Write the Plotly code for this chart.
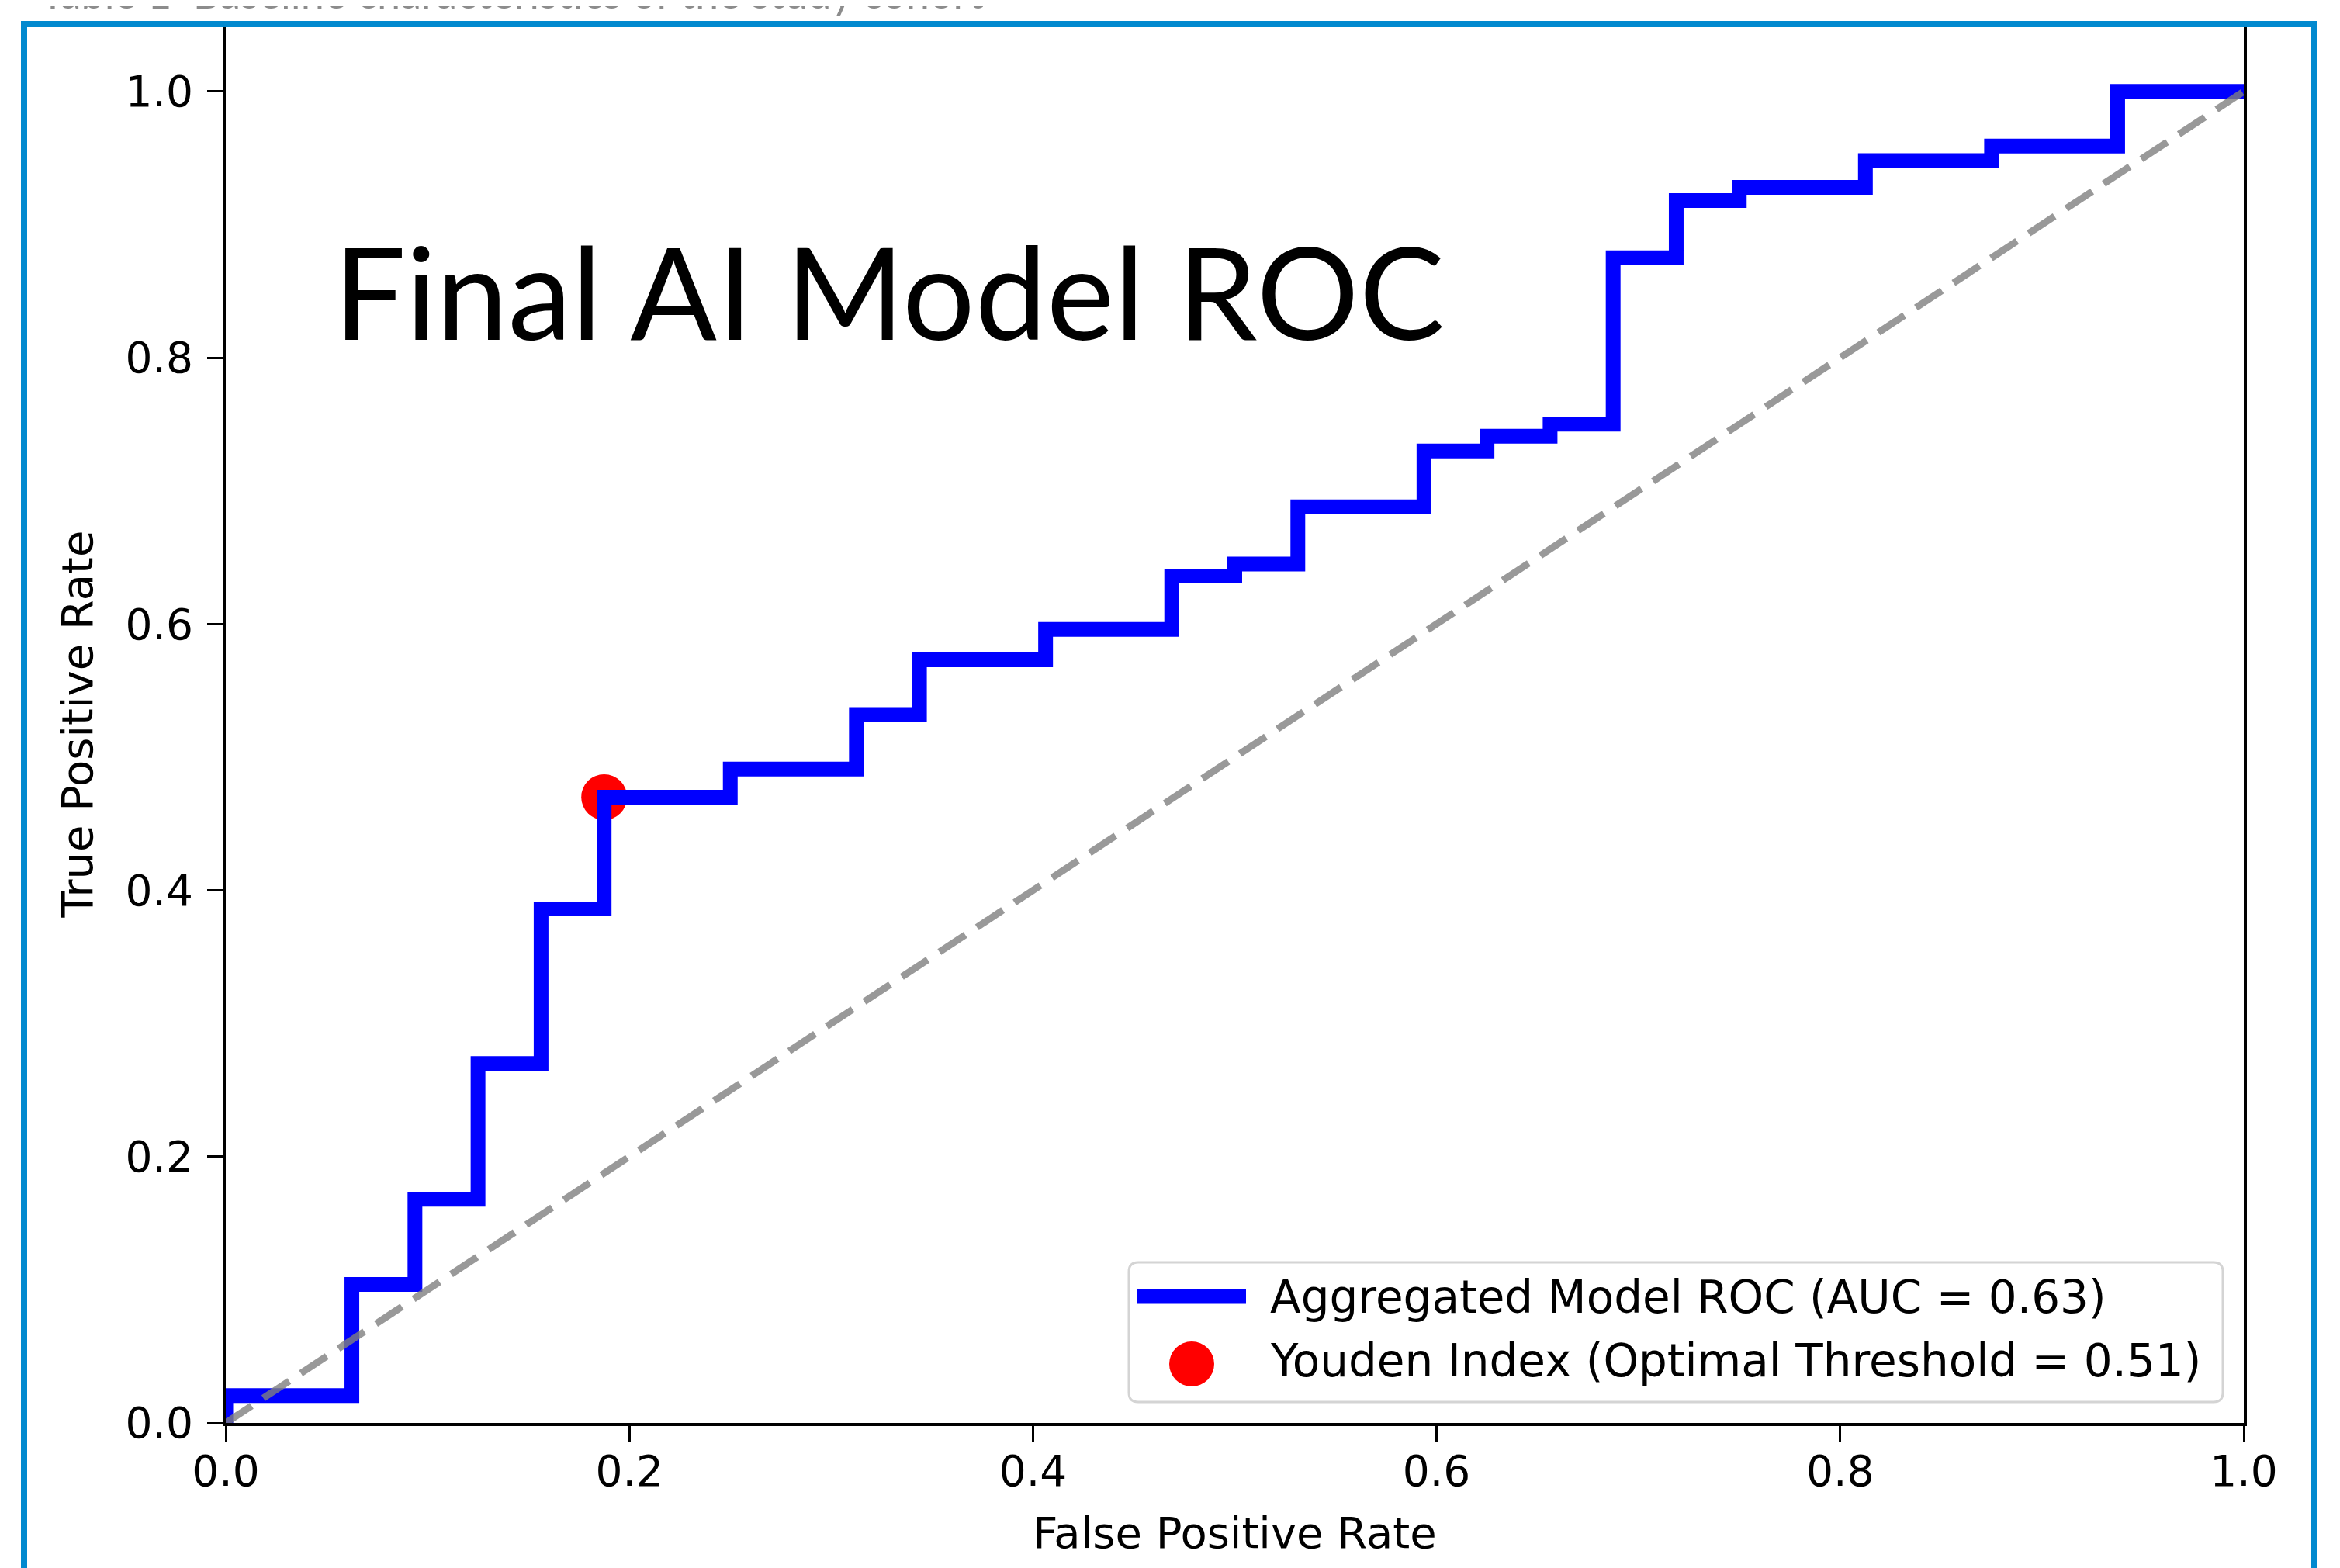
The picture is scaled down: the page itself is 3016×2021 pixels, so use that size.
import plotly.graph_objects as go

# ---------------- data ----------------
fpr = [0.0, 0.0, 0.0625, 0.09375, 0.125, 0.15625, 0.1875, 0.25, 0.3125, 0.34375,
       0.40625, 0.46875, 0.5, 0.53125, 0.59375, 0.625, 0.65625, 0.6875, 0.71875,
       0.75, 0.8125, 0.875, 0.9375, 1.0]
tpr = [0.0, 0.0206, 0.104, 0.168, 0.270, 0.386, 0.470, 0.491, 0.532, 0.573,
       0.596, 0.636, 0.645, 0.688, 0.730, 0.741, 0.750, 0.875, 0.918,
       0.928, 0.948, 0.959, 1.0, 1.0]
youden_fpr = [0.1875]
youden_tpr = [0.470]
chance_x = [0.0, 1.0]
chance_y = [0.0, 1.0]
tick_vals = [0.0, 0.2, 0.4, 0.6, 0.8, 1.0]
tick_text = ["0.0", "0.2", "0.4", "0.6", "0.8", "1.0"]
roc_label = "Aggregated Model ROC (AUC = 0.63)"
youden_label = "Youden Index (Optimal Threshold = 0.51)"
title_text = "Final AI Model ROC"
caption_text = "Table 1  Baseline characteristics of the study cohort"

# ---------------- geometry (page pixels) ----------------
OFF = 8                      # default body margin of the written html page
PW, PH = 3016, 2021          # page size
PL, PR, PT, PB = 291, 2892, 32, 1834   # plot area in page pixels
W, H = PW - OFF, PH - OFF


def px(xp):
    return (xp - PL) / (PR - PL)


def py(yp):
    return (PB - yp) / (PB - PT)


FONT = "DejaVu Sans"

fig = go.Figure()

# Youden point (below the ROC line)
fig.add_trace(go.Scatter(
    x=youden_fpr, y=youden_tpr, mode="markers", name=youden_label,
    marker=dict(color="#FF0000", size=59, line=dict(width=0)),
    showlegend=False, hoverinfo="skip"))

# ROC curve
fig.add_trace(go.Scatter(
    x=fpr, y=tpr, mode="lines", name=roc_label, line_shape="hv",
    line=dict(color="#0000FF", width=19), showlegend=False))

# chance diagonal
fig.add_trace(go.Scatter(
    x=chance_x, y=chance_y, mode="lines", name="Chance",
    line=dict(color="rgba(128,128,128,0.8)", width=9, dash="40px,18px"),
    showlegend=False, hoverinfo="skip"))

axis_common = dict(
    showgrid=False, zeroline=False, showline=True, linecolor="black",
    linewidth=4, mirror=True, ticks="outside", ticklen=20, tickwidth=3,
    tickcolor="black", tickvals=tick_vals, ticktext=tick_text,
    tickfont=dict(family=FONT, size=55, color="black"),
    automargin=False,
)

fig.update_xaxes(range=[0, 1], title=dict(text="False Positive Rate",
                 font=dict(family=FONT, size=56, color="black"), standoff=30),
                 **axis_common)
fig.update_yaxes(range=[0, 1.05], title=dict(text="True Positive Rate",
                 font=dict(family=FONT, size=56, color="black"), standoff=25),
                 **axis_common)
try:
    fig.update_xaxes(ticklabelstandoff=-9)
    fig.update_yaxes(ticklabelstandoff=7)
except Exception:
    fig.update_xaxes(ticklabelstandoff=0)
    fig.update_yaxes(ticklabelstandoff=0)

shapes = []
annotations = []

# legend box (rounded)
lx0, lx1, ly0, ly1 = 1455, 2865, 1627, 1807
r = 12
path = (f"M {px(lx0 + r)},{py(ly0)} L {px(lx1 - r)},{py(ly0)} "
        f"Q {px(lx1)},{py(ly0)} {px(lx1)},{py(ly0 + r)} "
        f"L {px(lx1)},{py(ly1 - r)} Q {px(lx1)},{py(ly1)} {px(lx1 - r)},{py(ly1)} "
        f"L {px(lx0 + r)},{py(ly1)} Q {px(lx0)},{py(ly1)} {px(lx0)},{py(ly1 - r)} "
        f"L {px(lx0)},{py(ly0 + r)} Q {px(lx0)},{py(ly0)} {px(lx0 + r)},{py(ly0)} Z")
shapes.append(dict(type="path", xref="paper", yref="paper", path=path,
                   fillcolor="rgba(255,255,255,0.85)", line=dict(color="#d4d4d4", width=3),
                   layer="above"))
# legend handles
shapes.append(dict(type="line", xref="paper", yref="paper",
                   x0=px(1466), x1=px(1606), y0=py(1671), y1=py(1671),
                   line=dict(color="#0000FF", width=19), layer="above"))
shapes.append(dict(type="circle", xref="paper", yref="paper",
                   x0=px(1536 - 29), x1=px(1536 + 29), y0=py(1758 - 29), y1=py(1758 + 29),
                   fillcolor="#FF0000", line=dict(width=0), layer="above"))
annotations.append(dict(xref="paper", yref="paper", x=px(1635), y=py(1672),
                        xanchor="left", yanchor="middle", showarrow=False,
                        text=roc_label, font=dict(family=FONT, size=58, color="black")))
annotations.append(dict(xref="paper", yref="paper", x=px(1635), y=py(1754),
                        xanchor="left", yanchor="middle", showarrow=False,
                        text=youden_label, font=dict(family=FONT, size=58, color="black")))

# big in-plot title
annotations.append(dict(xref="paper", yref="paper", x=px(428), y=py(374),
                        xanchor="left", yanchor="middle", showarrow=False,
                        text=title_text, font=dict(family="Lato", size=165, color="black")))

# caption cut off at the top of the page
annotations.append(dict(xref="paper", yref="paper", x=px(50), y=py(-9),
                        xanchor="left", yanchor="middle", showarrow=False,
                        text=caption_text, font=dict(family="Lato", size=54, color="#8c8c8c")))

# blue document frame
shapes.append(dict(type="path", xref="paper", yref="paper",
                   path=(f"M {px(31)},{py(2060)} L {px(31)},{py(31)} "
                         f"L {px(2982)},{py(31)} L {px(2982)},{py(2060)}"),
                   line=dict(color="#0289CF", width=8), layer="above"))

fig.update_layout(
    width=W, height=H, autosize=False,
    margin=dict(l=PL - OFF, r=PW - PR, t=PT - OFF, b=PH - PB, pad=0, autoexpand=False),
    paper_bgcolor="white", plot_bgcolor="white",
    showlegend=False, shapes=shapes, annotations=annotations,
    font=dict(family=FONT, color="black"),
)

fig.write_html("out.html")
